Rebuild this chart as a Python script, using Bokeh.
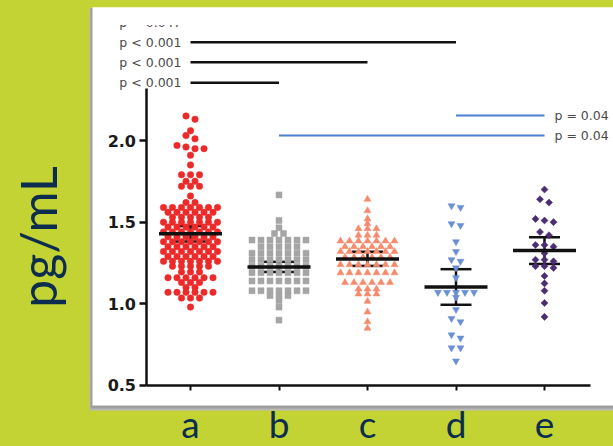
import numpy as np
from bokeh.plotting import figure
from bokeh.models import (Range1d, LinearAxis, FixedTicker, Whisker, TeeHead,
                          ColumnDataSource, BoxAnnotation, NumeralTickFormatter)
from bokeh.core.properties import value
from bokeh.embed import file_html
from bokeh.resources import INLINE

# ---------------- data ----------------
categories = ["a", "b", "c", "d", "e"]

values_a = [2.15, 2.13, 2.06, 2.03, 2.01, 1.97, 1.96, 1.95, 1.95, 1.91, 1.85,
            1.79, 1.79, 1.79, 1.75, 1.75, 1.72, 1.72, 1.72, 1.66, 1.62, 1.62,
            1.59, 1.59, 1.59, 1.59, 1.59, 1.59, 1.59,
            1.56, 1.56, 1.56, 1.56, 1.56, 1.56,
            1.53, 1.53, 1.53, 1.53, 1.53,
            1.50, 1.50, 1.50, 1.50, 1.50, 1.50, 1.50,
            1.47, 1.47, 1.47, 1.47, 1.47, 1.47,
            1.44, 1.44, 1.44, 1.44, 1.44, 1.44, 1.44,
            1.41, 1.41, 1.41, 1.41, 1.41, 1.41,
            1.38, 1.38, 1.38, 1.38, 1.38, 1.38, 1.38,
            1.35, 1.35, 1.35, 1.35, 1.35, 1.35,
            1.32, 1.32, 1.32, 1.32, 1.32, 1.32, 1.32,
            1.29, 1.29, 1.29, 1.29, 1.29, 1.29,
            1.26, 1.26, 1.26, 1.26, 1.26, 1.26, 1.26,
            1.23, 1.23, 1.23, 1.23, 1.23,
            1.195, 1.195, 1.195,
            1.16, 1.16, 1.16, 1.16, 1.16, 1.16,
            1.13, 1.13, 1.13,
            1.10, 1.10,
            1.07, 1.07, 1.07, 1.07, 1.07, 1.07,
            1.035, 1.035, 1.035, 0.98]

values_b = [1.667, 1.51, 1.465, 1.43, 1.43,
            1.39, 1.39, 1.39, 1.39, 1.39, 1.39, 1.39,
            1.35, 1.35, 1.35, 1.35, 1.35,
            1.31, 1.31, 1.31, 1.31, 1.31, 1.31, 1.31,
            1.27, 1.27, 1.27, 1.27, 1.27, 1.27, 1.27,
            1.23, 1.23, 1.23, 1.23, 1.23, 1.23, 1.23,
            1.19, 1.19, 1.19, 1.19, 1.19, 1.19, 1.19,
            1.14, 1.14, 1.14, 1.14, 1.14, 1.14, 1.14,
            1.08, 1.08, 1.08, 1.08, 1.08, 1.08, 1.08,
            1.05, 1.05, 1.05, 1.02, 0.98, 0.90]

values_c = [1.64, 1.57, 1.52, 1.49, 1.46, 1.46, 1.46, 1.42, 1.42, 1.42,
            1.385, 1.385, 1.385, 1.385, 1.385, 1.385, 1.385,
            1.35, 1.35, 1.35, 1.35, 1.35, 1.35,
            1.32, 1.32, 1.32, 1.32, 1.32, 1.32, 1.32,
            1.285, 1.285, 1.285, 1.285, 1.285, 1.285,
            1.24, 1.24, 1.24, 1.24, 1.24, 1.24, 1.24,
            1.19, 1.19, 1.19, 1.19, 1.19, 1.19, 1.19,
            1.13, 1.13, 1.13, 1.13, 1.13, 1.13,
            1.09, 1.09, 1.09, 1.06, 1.06, 1.06,
            1.015, 0.95, 0.89, 0.85]

values_d = [1.60, 1.59, 1.49, 1.48, 1.38, 1.32, 1.27, 1.26, 1.22, 1.16,
            1.07, 1.07, 1.07, 1.07, 1.07, 1.04, 0.965, 0.91, 0.89,
            0.81, 0.79, 0.73, 0.73, 0.65]

values_e = [1.70, 1.64, 1.62, 1.52, 1.51, 1.50, 1.44, 1.42, 1.36, 1.36, 1.35,
            1.31, 1.27, 1.27, 1.26, 1.23, 1.23, 1.22, 1.17, 1.125, 1.08,
            1.005, 0.92]

group_means = [1.429, 1.226, 1.275, 1.103, 1.326]
group_err = [0.048, 0.031, 0.043, 0.109, 0.082]

sig_from = [1, 1, 1, 1, 4, 2]
sig_to = [5, 4, 3, 2, 5, 5]
sig_level = [2.722, 2.602, 2.479, 2.353, 2.153, 2.031]
sig_label = ["p = 0.047", "p < 0.001", "p < 0.001", "p < 0.001", "p = 0.04", "p = 0.04"]
sig_side = ["left", "left", "left", "left", "right", "right"]

y_ticks = [0.5, 1.0, 1.5, 2.0]

# ---------------- styles ----------------
GREEN = "#c4d334"
NAVY = "#0c2d4f"
group_colors = ["#ec2a2a", "#a5a5a5", "#f68a6c", "#6b8fd3", "#4a2d72"]
sig_colors = ["#111111"] * 4 + ["#4d7fd0"] * 2

W, H = 613, 446
CAT_A_PX, CAT_STEP = 190.0, 88.5       # x pixel of "a", px per category
Y2_PX, Y_STEP = 140.0, 163.3           # y pixel of value 2.0, px per unit


def px2x(px):
    return 1 + (px - CAT_A_PX) / CAT_STEP


def py2y(py):
    return 2 + (Y2_PX - py) / Y_STEP


X0, X1 = px2x(0), px2x(W)
Y0, Y1 = py2y(H), py2y(0)
XPX = CAT_STEP


def row_offsets(vals, tol, step_px):
    vals = np.asarray(vals, float)
    order = np.argsort(-vals, kind="stable")
    offs = np.zeros(len(vals))
    rows, cur = [], []
    for i in order:
        if cur and vals[cur[0]] - vals[i] >= tol - 1e-9:
            rows.append(cur)
            cur = []
        cur.append(i)
    if cur:
        rows.append(cur)
    for r in rows:
        n = len(r)
        for k, i in enumerate(r):
            offs[i] = (k - (n - 1) / 2) * step_px / XPX
    return offs


p = figure(width=W, height=H, x_range=Range1d(X0, X1), y_range=Range1d(Y0, Y1),
           output_backend="svg", toolbar_location=None,
           x_axis_type=None, y_axis_type=None,
           min_border_left=0, min_border_right=0,
           min_border_top=0, min_border_bottom=0,
           background_fill_color=GREEN, border_fill_color=GREEN,
           outline_line_color=None)
p.grid.visible = False

# white panel (pasted screenshot) with shadow
p.add_layout(BoxAnnotation(left=px2x(89), top=py2y(8), bottom=py2y(410),
                           fill_color="#b9b9b9", fill_alpha=1, line_color=None,
                           level="underlay"))
p.add_layout(BoxAnnotation(left=px2x(90), top=py2y(7.5), bottom=py2y(408),
                           fill_color="#9e9e9e", fill_alpha=1, line_color=None,
                           level="underlay"))
p.add_layout(BoxAnnotation(left=px2x(92), top=py2y(7), bottom=py2y(405),
                           fill_color="white", fill_alpha=1, line_color=None,
                           level="underlay"))

# points
all_vals = [values_a, values_b, values_c, values_d, values_e]
markers = ["circle", "square", "triangle", "inverted_triangle", "square"]
sizes = [6.5, 6, 7, 7, 5]
angles = [0, 0, 0, 0, np.pi / 4]
for gi, vals in enumerate(all_vals):
    offs = row_offsets(vals, 0.025, 9.0)
    src = ColumnDataSource(dict(x=(gi + 1) + offs, y=vals))
    p.scatter("x", "y", source=src, marker=markers[gi], size=sizes[gi],
              angle=angles[gi], fill_color=group_colors[gi],
              line_color=group_colors[gi], line_width=0.5)

# mean and CI
xs = np.arange(1, 6)
m = np.array(group_means)
e = np.array(group_err)
half_mean = 31.5 / XPX
p.segment(x0=xs - half_mean, x1=xs + half_mean, y0=m, y1=m,
          line_color="#111111", line_width=3.5)
wsrc = ColumnDataSource(dict(x=xs, lo=m - e, hi=m + e))
p.add_layout(Whisker(source=wsrc, base="x", lower="lo", upper="hi",
                     dimension="height", line_color="#111111", line_width=2.5,
                     upper_head=TeeHead(size=31, line_color="#111111", line_width=2.5),
                     lower_head=TeeHead(size=31, line_color="#111111", line_width=2.5)))

# significance brackets
p.segment(x0=sig_from, x1=sig_to, y0=sig_level, y1=sig_level,
          line_color=sig_colors, line_width=[2.5, 2.5, 2.5, 2.5, 2, 2])
tx = [f - 9 / XPX if s == "left" else t + 10 / XPX
      for f, t, s in zip(sig_from, sig_to, sig_side)]
ta = ["right" if s == "left" else "left" for s in sig_side]
p.text(x=tx, y=sig_level, text=sig_label, text_align=ta, text_baseline="middle",
       text_font=value("DejaVu Sans"), text_font_size="12.5px", text_color="#4a4a4a")

# top clip of the pasted screenshot hides the upper half of the first label
p.add_layout(BoxAnnotation(left=px2x(92.5), top=py2y(7), bottom=py2y(24.5),
                           fill_color="white", fill_alpha=1, line_color=None))

# axes
yax = LinearAxis(fixed_location=px2x(145.5), bounds=(0.5, 2.32),
                 ticker=FixedTicker(ticks=y_ticks),
                 formatter=NumeralTickFormatter(format="0.0"),
                 axis_line_width=2.5, axis_line_color="#111111",
                 major_tick_line_width=2.5, major_tick_line_color="#111111",
                 major_tick_out=7, major_tick_in=0, minor_tick_line_color=None,
                 major_label_standoff=3,
                 major_label_text_font="DejaVu Sans",
                 major_label_text_font_style="bold",
                 major_label_text_font_size="16px",
                 major_label_text_color="#1a1a1a",
                 axis_label="pg/mL", axis_label_text_font="Lato",
                 axis_label_text_font_style="normal",
                 axis_label_text_font_size="50px",
                 axis_label_text_color=NAVY, axis_label_standoff=37)
p.add_layout(yax, "left")

xax = LinearAxis(fixed_location=0.5, bounds=(px2x(145.5), px2x(589.5)),
                 ticker=FixedTicker(ticks=[1, 2, 3, 4, 5]),
                 major_label_overrides={i + 1: c for i, c in enumerate(categories)},
                 axis_line_width=2.5, axis_line_color="#111111",
                 major_tick_line_width=2, major_tick_line_color="#111111",
                 major_tick_out=5, major_tick_in=0, minor_tick_line_color=None,
                 major_label_standoff=11,
                 major_label_text_font="Lato",
                 major_label_text_font_size="37px",
                 major_label_text_color=NAVY)
p.add_layout(xax, "below")

html = file_html(p, INLINE)
html = html.replace("<head>", "<head><style>body{background-color:%s;}</style>" % GREEN, 1)
open("out.html", "w").write(html)
